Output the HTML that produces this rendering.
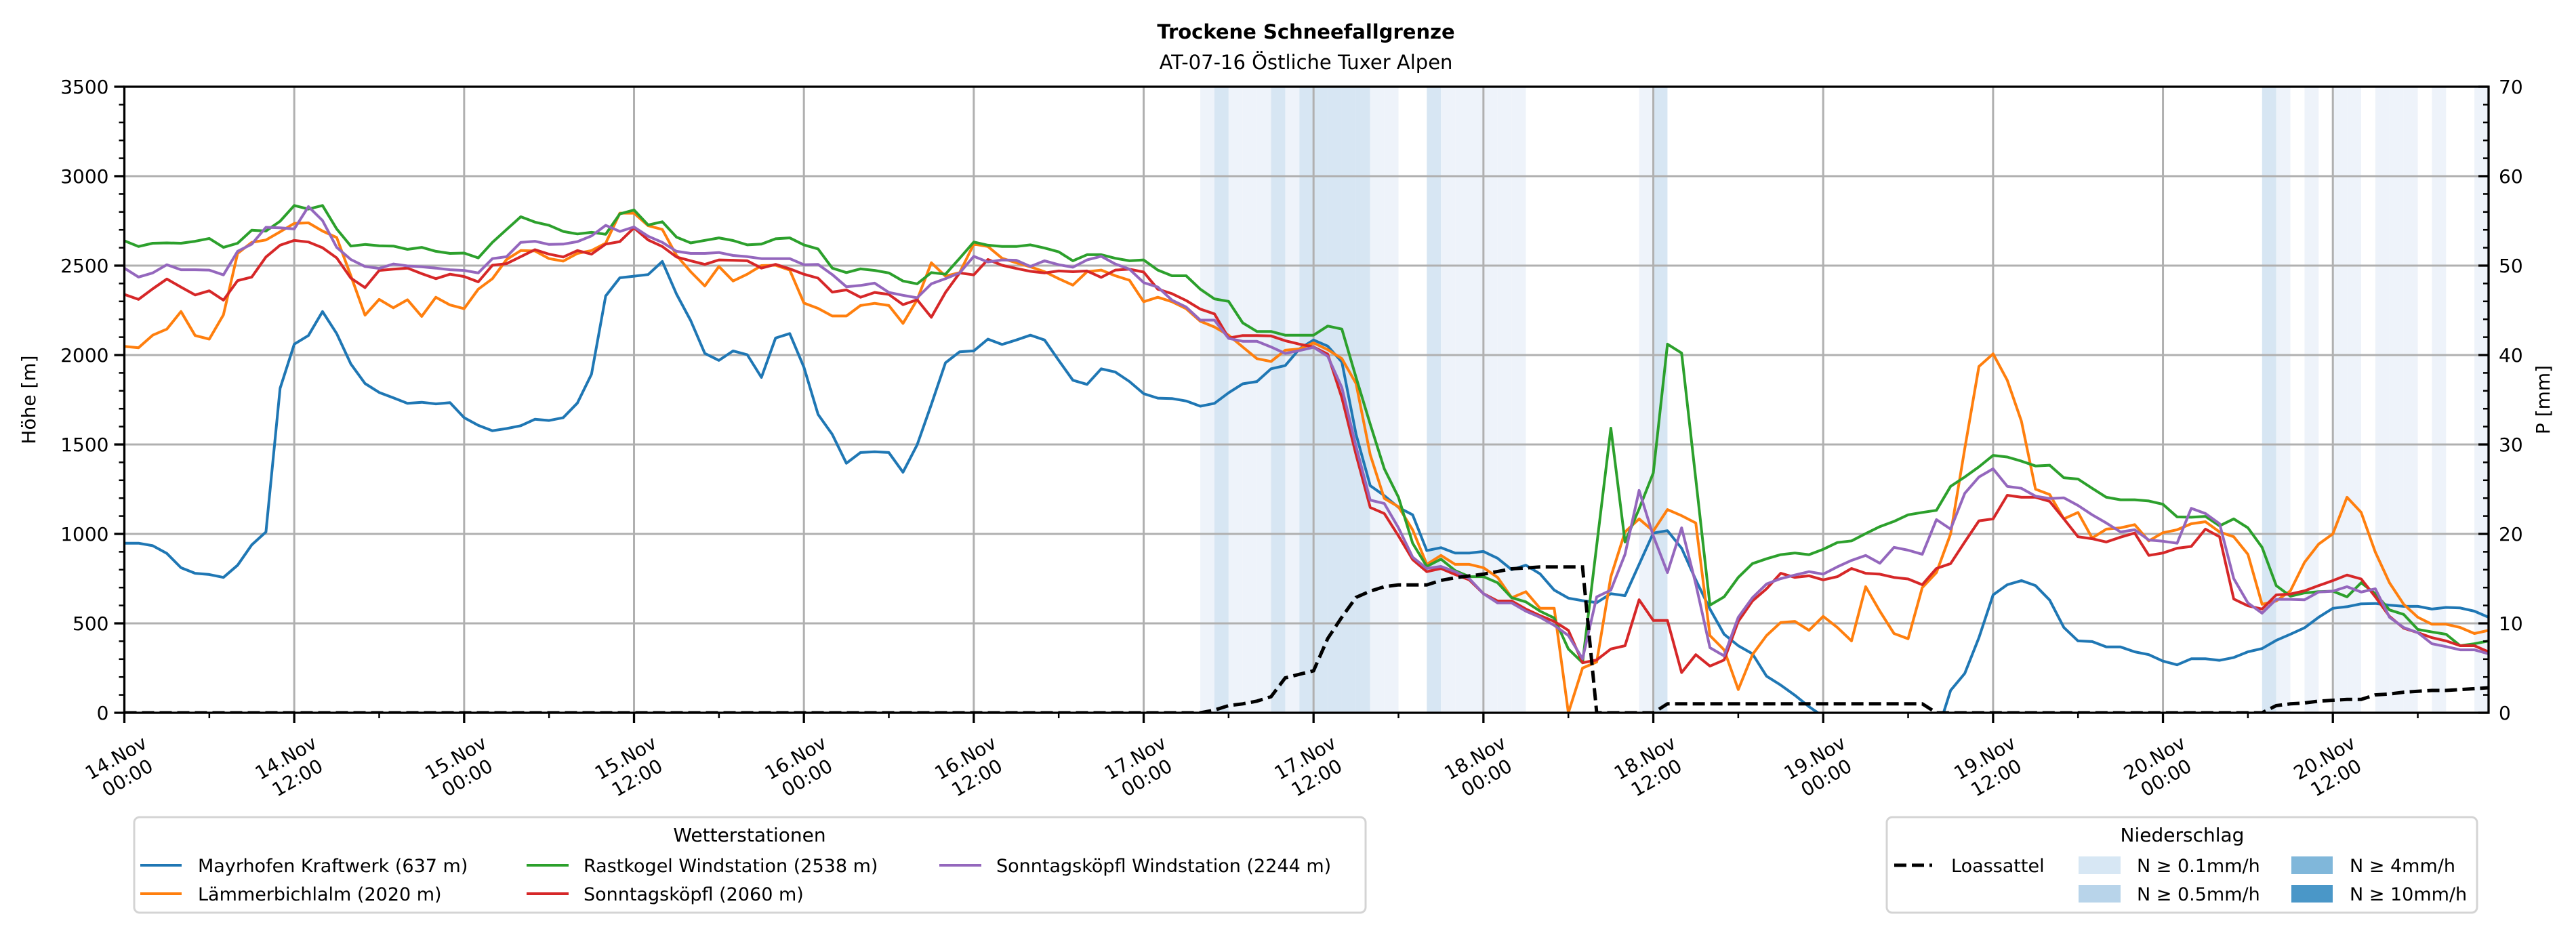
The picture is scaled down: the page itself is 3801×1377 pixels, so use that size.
<!DOCTYPE html>
<html><head><meta charset="utf-8">
<style>
html,body{margin:0;padding:0;background:#fff;}
svg{display:block;font-family:"DejaVu Sans","Liberation Sans",sans-serif;}
</style></head>
<body>
<svg id="chart" xmlns="http://www.w3.org/2000/svg" width="3801" height="1377" viewBox="0 0 3801 1377">
  <rect width="3801" height="1377" fill="#fff"/>
  <defs><clipPath id="plotclip"><rect x="183.5" y="128" width="3488.5" height="924"/></clipPath></defs>
  <text x="1927" y="57" text-anchor="middle" font-size="29" font-weight="bold">Trockene Schneefallgrenze</text>
  <text x="1927" y="102" text-anchor="middle" font-size="29">AT-07-16 Östliche Tuxer Alpen</text>
  <g id="spans" clip-path="url(#plotclip)"></g>
  <g id="grid"></g>
  <g id="series" clip-path="url(#plotclip)"></g>
  <g id="axes"></g>
  <text transform="translate(52,590) rotate(-90)" text-anchor="middle" font-size="28">Höhe [m]</text>
  <text transform="translate(3762,590) rotate(-90)" text-anchor="middle" font-size="28">P [mm]</text>

  <g>
    <rect x="198" y="1206" width="1817" height="141" rx="8" fill="#fff" stroke="#d4d4d4" stroke-width="3"/>
    <text x="1106" y="1242" text-anchor="middle" font-size="28">Wetterstationen</text>
    <g><line x1="207" y1="1277" x2="268" y2="1277" stroke="#1f77b4" stroke-width="4"/><text x="292" y="1287" font-size="27">Mayrhofen Kraftwerk (637 m)</text></g>
    <g><line x1="207" y1="1319" x2="268" y2="1319" stroke="#ff7f0e" stroke-width="4"/><text x="292" y="1329" font-size="27">Lämmerbichlalm (2020 m)</text></g>
    <g><line x1="777" y1="1277" x2="839" y2="1277" stroke="#2ca02c" stroke-width="4"/><text x="861" y="1287" font-size="27">Rastkogel Windstation (2538 m)</text></g>
    <g><line x1="777" y1="1319" x2="839" y2="1319" stroke="#d62728" stroke-width="4"/><text x="861" y="1329" font-size="27">Sonntagsköpfl (2060 m)</text></g>
    <g><line x1="1386" y1="1277" x2="1448" y2="1277" stroke="#9467bd" stroke-width="4"/><text x="1470" y="1287" font-size="27">Sonntagsköpfl Windstation (2244 m)</text></g>
  </g>

  <g>
    <rect x="2784" y="1206" width="871" height="141" rx="8" fill="#fff" stroke="#d4d4d4" stroke-width="3"/>
    <text x="3220" y="1242" text-anchor="middle" font-size="28">Niederschlag</text>
    <g><line x1="2795" y1="1277" x2="2851" y2="1277" stroke="#000" stroke-width="5" stroke-dasharray="18,8"/><text x="2879" y="1287" font-size="27">Loassattel</text></g>
    <g><rect x="3067" y="1264" width="62" height="26" fill="#d7e7f4"/><text x="3153" y="1287" font-size="27">N ≥ 0.1mm/h</text></g>
    <g><rect x="3067" y="1306" width="62" height="26" fill="#b8d4ea"/><text x="3153" y="1329" font-size="27">N ≥ 0.5mm/h</text></g>
    <g><rect x="3381" y="1264" width="61" height="26" fill="#80b7da"/><text x="3467" y="1287" font-size="27">N ≥ 4mm/h</text></g>
    <g><rect x="3381" y="1306" width="61" height="26" fill="#4a97c8"/><text x="3467" y="1329" font-size="27">N ≥ 10mm/h</text></g>
  </g>
</svg>
<script>
// ---- data (hourly, starting 14.Nov 00:00) ----
const xTickLabels = ["14.Nov|00:00","14.Nov|12:00","15.Nov|00:00","15.Nov|12:00","16.Nov|00:00","16.Nov|12:00","17.Nov|00:00","17.Nov|12:00","18.Nov|00:00","18.Nov|12:00","19.Nov|00:00","19.Nov|12:00","20.Nov|00:00","20.Nov|12:00"];
const yTicks = [0,500,1000,1500,2000,2500,3000,3500];
const y2Ticks = [0,10,20,30,40,50,60,70];
const mayrhofen = [948,948,934,891,811,780,773,757,825,939,1011,1814,2061,2109,2243,2120,1950,1841,1791,1761,1730,1736,1727,1734,1650,1607,1577,1589,1605,1641,1634,1650,1732,1893,2330,2432,2441,2450,2523,2341,2193,2009,1970,2023,
2002,1875,2095,2120,1932,1668,1557,1395,1455,1459,1455,1345,1498,1723,1957,2018,2023,2089,2059,2084,2111,2084,1970,1859,1836,1923,1905,1852,1784,1759,1757,1743,1714,1730,1789,1839,1852,1923,1941,2034,2084,2050,
1961,1557,1270,1214,1148,1107,907,923,893,893,902,864,800,825,777,686,641,627,616,666,655,830,1005,1018,920,743,580,439,375,330,205,155,98,34,-20,-60,-80,-90,-100,-120,-150,-150,
-125,125,220,420,659,716,739,711,630,477,402,398,368,368,341,325,289,268,302,302,293,309,341,359,405,439,475,534,584,593,609,611,602,595,595,580,589,586,568,534];
const laemmerbichl = [2048,2041,2111,2145,2243,2109,2089,2225,2568,2630,2643,2689,2736,2739,2693,2657,2443,2223,2311,2264,2309,2216,2323,2280,2259,2368,2427,2534,2584,2582,2539,2525,2568,2584,2625,2793,2793,2723,2702,2557,2466,2386,2495,2414,
2452,2500,2502,2475,2291,2261,2218,2218,2277,2289,2277,2177,2309,2516,2441,2461,2620,2607,2541,2516,2493,2466,2427,2391,2466,2475,2443,2418,2298,2323,2298,2259,2189,2157,2111,2045,1980,1964,2027,2034,2068,2030,
1980,1841,1443,1198,1152,1023,830,880,830,830,811,757,643,677,584,584,0,250,284,761,1011,1084,1016,1136,1102,1061,432,352,130,325,432,505,511,461,539,477,402,705,568,443,414,700,
784,1000,1477,1936,2007,1859,1630,1250,1220,1084,1120,977,1027,1034,1052,961,1007,1023,1057,1068,1011,984,886,607,625,682,841,943,1000,1205,1120,898,727,607,534,495,495,477,443,461];
const rastkogel = [2639,2607,2625,2627,2625,2636,2652,2602,2625,2698,2693,2748,2836,2816,2836,2705,2609,2618,2611,2609,2591,2602,2580,2568,2570,2543,2630,2702,2773,2743,2725,2691,2677,2686,2675,2789,2811,2727,2745,2659,2627,2641,2655,2640,
2616,2620,2650,2655,2616,2593,2486,2461,2482,2473,2459,2414,2398,2461,2452,2541,2632,2614,2607,2607,2616,2598,2577,2527,2561,2561,2541,2527,2532,2475,2443,2443,2368,2314,2300,2180,2132,2132,2111,2111,2111,2162,
2145,1875,1614,1364,1205,948,818,859,795,761,761,727,643,620,568,530,357,280,936,1591,955,1140,1341,2061,2011,1307,602,648,757,834,861,884,893,884,914,952,961,1002,1041,1070,1107,1120,
1132,1266,1318,1375,1439,1430,1407,1380,1384,1314,1307,1255,1205,1191,1191,1184,1166,1095,1093,1098,1045,1084,1034,925,711,652,670,677,680,648,727,666,575,550,466,452,439,375,386,402];
const sonntagskoepfl = [2339,2311,2370,2425,2380,2336,2359,2307,2416,2436,2548,2614,2641,2632,2600,2543,2430,2377,2473,2480,2486,2455,2427,2452,2439,2409,2502,2511,2550,2589,2564,2548,2584,2564,2620,2634,2711,2643,2607,2548,2527,2507,2532,2530,
2527,2486,2507,2482,2452,2430,2352,2364,2323,2350,2339,2282,2309,2211,2350,2459,2448,2534,2502,2484,2468,2459,2470,2466,2470,2434,2475,2480,2464,2368,2343,2305,2257,2230,2095,2109,2109,2107,2080,2061,2045,2005,
1761,1443,1148,1114,989,857,789,807,773,743,666,625,625,580,543,511,461,280,295,357,375,632,516,516,225,325,261,295,511,625,693,780,757,766,743,761,807,780,775,757,748,716,
807,834,955,1073,1084,1216,1205,1205,1182,1084,984,973,955,982,1005,880,893,920,930,1027,984,636,598,580,659,664,682,711,739,770,748,648,539,473,448,420,402,375,375,341];
const sonntagskoepflWind = [2486,2436,2459,2505,2477,2477,2475,2448,2580,2620,2714,2711,2705,2830,2752,2602,2534,2495,2484,2509,2498,2493,2486,2477,2473,2459,2539,2550,2630,2636,2618,2620,2634,2666,2725,2691,2716,2664,2630,2580,2568,2568,2573,2557,
2550,2539,2539,2539,2505,2507,2450,2382,2389,2402,2350,2334,2320,2398,2427,2459,2552,2520,2532,2530,2495,2527,2505,2491,2532,2552,2509,2480,2405,2380,2307,2268,2195,2195,2093,2077,2077,2045,2009,2025,2043,1993,
1818,1489,1189,1170,1034,870,807,818,789,750,666,614,614,568,534,489,432,302,648,686,886,1243,989,784,1034,720,364,318,534,643,720,750,770,789,775,816,852,880,836,925,909,886,
1080,1027,1227,1318,1364,1266,1255,1211,1198,1202,1159,1107,1061,1011,1023,966,959,948,1143,1114,1057,750,614,557,634,634,632,675,680,705,675,693,534,477,448,386,370,352,352,330];
const loassattel = [0,0,0,0,0,0,0,0,0,0,0,0,0,0,0,0,0,0,0,0,0,0,0,0,0,0,0,0,0,0,0,0,0,0,0,0,0,0,0,0,0,0,0,0,0,0,0,0,0,0,0,0,0,0,0,0,0,0,0,0,0,0,0,0,0,0,0,0,0,0,0,0,0,0,0,0,0,
0.3,0.8,1.0,1.3,1.8,3.9,4.3,4.7,8.3,10.7,12.9,13.6,14.1,14.3,14.3,14.3,14.8,15.1,15.3,15.5,15.8,16.1,16.2,16.3,16.3,16.3,16.3,
0,0,0,0,0,1,1,1,1,1,1,1,1,1,1,1,1,1,1,1,1,1,1,1,
0,0,0,0,0,0,0,0,0,0,0,0,0,0,0,0,0,0,0,0,0,0,0,0,
0.8,1.0,1.1,1.3,1.4,1.5,1.5,2.0,2.1,2.3,2.4,2.5,2.5,2.6,2.7,2.8];
const precipHours = [76,77,78,79,80,81,82,83,84,85,86,87,88,89,92,93,94,95,96,97,98,107,108,151,152,154,156,157,159,160,161,163,166];
const precipValues = [0.2,0.6,0.2,0.2,0.2,0.6,0.2,0.6,0.6,0.6,0.6,0.6,0.2,0.2,0.6,0.2,0.2,0.2,0.2,0.2,0.2,0.2,0.6,0.6,0.2,0.2,0.2,0.2,0.2,0.2,0.2,0.2,0.2];

const NS = "http://www.w3.org/2000/svg";
const X0 = 183.5, X1 = 3672, Y0 = 1052, Y1 = 128, HMAX = 167;
function xs(h){ return X0 + (X1 - X0) * h / HMAX; }
function ys(v){ return Y0 - (Y0 - Y1) * v / 3500; }
function ys2(p){ return Y0 - (Y0 - Y1) * p / 70; }
function mk(tag, attrs, parent){ const e = document.createElementNS(NS, tag); for (const k in attrs) e.setAttribute(k, attrs[k]); parent.appendChild(e); return e; }

// precipitation spans
const gS = document.getElementById('spans');
precipHours.forEach((h, i) => {
  const v = precipValues[i];
  const r = mk('rect', {x: xs(h), y: Y1, width: xs(h + 1) - xs(h), height: Y0 - Y1, fill: v >= 0.5 ? '#d7e6f3' : '#eef3fa'}, gS);
  
  
});

// grid
const gG = document.getElementById('grid');
yTicks.forEach(v => {
  const l = mk('line', {x1: X0, x2: X1, y1: ys(v), y2: ys(v), stroke: '#b0b0b0', 'stroke-width': 3}, gG);
  
  
});
xTickLabels.forEach((t, i) => {
  const l = mk('line', {x1: xs(i * 12), x2: xs(i * 12), y1: Y1, y2: Y0, stroke: '#b0b0b0', 'stroke-width': 3}, gG);
  
  
});

// series
const gL = document.getElementById('series');
const seriesList = [[mayrhofen,'#1f77b4','line-mayrhofen'],[laemmerbichl,'#ff7f0e','line-laemmerbichlalm'],[rastkogel,'#2ca02c','line-rastkogel'],[sonntagskoepfl,'#d62728','line-sonntagskoepfl'],[sonntagskoepflWind,'#9467bd','line-sonntagskoepfl-wind']];
seriesList.forEach(s => {
  const d = s[0].map((v, h) => (h ? 'L' : 'M') + xs(h).toFixed(1) + ',' + ys(v).toFixed(1)).join('');
  const p = mk('path', {d: d, fill: 'none', stroke: s[1], 'stroke-width': 4, 'stroke-linejoin': 'round'}, gL);
  
  
});
const dL = loassattel.map((v, h) => (h ? 'L' : 'M') + xs(h).toFixed(1) + ',' + ys2(v).toFixed(1)).join('');
const pL = mk('path', {d: dL, fill: 'none', stroke: '#000', 'stroke-width': 5, 'stroke-dasharray': '18,8'}, gL);



// axes
const gA = document.getElementById('axes');
const frame = mk('rect', {x: X0, y: Y1, width: X1 - X0, height: Y0 - Y1, fill: 'none', stroke: '#000', 'stroke-width': 3.3}, gA);


for (let v = 0; v <= 3500; v += 100) {
  const major = v % 500 === 0;
  const t = mk('line', {x1: X0, x2: X0 - (major ? 15 : 8), y1: ys(v), y2: ys(v), stroke: '#000', 'stroke-width': major ? 3.3 : 2.5}, gA);
  
  
}
yTicks.forEach(v => {
  const t = mk('text', {x: X0 - 23, y: ys(v) + 10, 'text-anchor': 'end', 'font-size': 28}, gA);
  t.textContent = v;
  
  
});
for (let p = 0; p <= 70; p += 2) {
  const major = p % 10 === 0;
  const t = mk('line', {x1: X1, x2: X1 - (major ? 15 : 8), y1: ys2(p), y2: ys2(p), stroke: '#000', 'stroke-width': major ? 3.3 : 2.5}, gA);
  
  
}
y2Ticks.forEach(p => {
  const t = mk('text', {x: X1 + 15, y: ys2(p) + 10, 'text-anchor': 'start', 'font-size': 28}, gA);
  t.textContent = p;
  
  
});
for (let h = 0; h <= HMAX; h += 6) {
  const major = h % 12 === 0;
  const t = mk('line', {x1: xs(h), x2: xs(h), y1: Y0, y2: Y0 + (major ? 15 : 8), stroke: '#000', 'stroke-width': major ? 3.3 : 2.5}, gA);
  
  
}
xTickLabels.forEach((lab, i) => {
  const parts = lab.split('|');
  const t = mk('text', {transform: 'translate(' + (xs(i * 12) - 4).toFixed(1) + ',1133) rotate(-30)', 'text-anchor': 'middle', 'font-size': 28}, gA);
  const a = mk('tspan', {x: 0, y: -7}, t); a.textContent = parts[0];
  const b = mk('tspan', {x: 0, y: 27}, t); b.textContent = parts[1];
  
  
});
</script>
</body></html>
